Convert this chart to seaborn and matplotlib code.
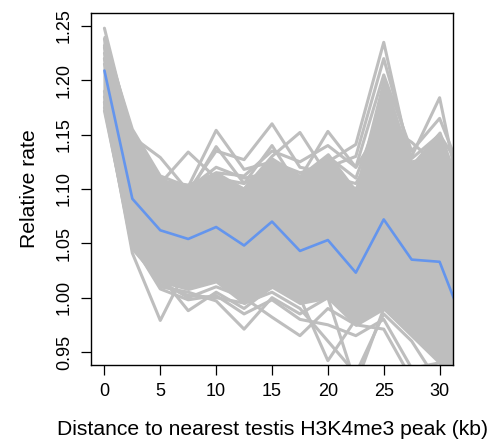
import matplotlib
matplotlib.use("Agg")
import matplotlib.pyplot as plt
import pandas as pd
import seaborn as sns

# distance bins (kb); the last bin lies just past the visible range
distance = [0, 2.5, 5, 7.5, 10, 12.5, 15, 17.5, 20, 22.5, 25, 27.5, 30, 32.5]

# observed relative rate
observed = [1.209, 1.091, 1.062, 1.054, 1.065, 1.048, 1.070, 1.043, 1.053,
            1.023, 1.072, 1.035, 1.033, 0.967]

# dense core of the resampled curves
core_upper = [1.240, 1.150, 1.108, 1.104, 1.115, 1.100, 1.128, 1.112, 1.132,
              1.098, 1.200, 1.122, 1.152, 1.080]
core_lower = [1.175, 1.045, 1.015, 1.008, 1.015, 0.995, 1.010, 0.995, 1.000,
              0.975, 0.990, 0.965, 0.940, 0.920]

# individual resampled curves that stick out of the core
outliers = {
    "u1": [1.238, 1.155, 1.112, 1.102, 1.154, 1.118, 1.125, 1.105, 1.110, 1.090, 1.120, 1.105, 1.110, 1.085],
    "u2": [1.230, 1.148, 1.129, 1.098, 1.135, 1.127, 1.160, 1.120, 1.115, 1.100, 1.140, 1.125, 1.130, 1.095],
    "u3": [1.225, 1.140, 1.105, 1.134, 1.110, 1.100, 1.130, 1.152, 1.112, 1.105, 1.150, 1.110, 1.125, 1.090],
    "u4": [1.220, 1.135, 1.110, 1.095, 1.139, 1.105, 1.120, 1.110, 1.153, 1.120, 1.160, 1.143, 1.120, 1.095],
    "u5": [1.232, 1.150, 1.108, 1.100, 1.120, 1.110, 1.115, 1.105, 1.125, 1.141, 1.235, 1.120, 1.140, 1.080],
    "u6": [1.215, 1.130, 1.100, 1.095, 1.110, 1.105, 1.140, 1.100, 1.130, 1.110, 1.180, 1.130, 1.184, 1.060],
    "u7": [1.248, 1.145, 1.105, 1.100, 1.115, 1.112, 1.135, 1.125, 1.140, 1.120, 1.205, 1.135, 1.165, 1.100],
    "u8": [1.220, 1.135, 1.100, 1.090, 1.105, 1.100, 1.125, 1.115, 1.120, 1.130, 1.220, 1.128, 1.150, 1.110],
    "l1": [1.180, 1.041, 0.979, 1.030, 1.020, 1.010, 1.030, 1.000, 1.010, 0.990, 1.000, 0.990, 0.970, 0.950],
    "l2": [1.175, 1.045, 1.020, 0.988, 1.005, 0.990, 1.010, 1.000, 0.942, 0.980, 1.010, 0.985, 0.960, 0.940],
    "l3": [1.172, 1.050, 1.010, 1.005, 0.997, 0.971, 1.000, 0.985, 1.000, 0.920, 0.990, 0.970, 0.955, 0.945],
    "l4": [1.185, 1.055, 1.015, 1.000, 1.010, 1.000, 0.982, 0.965, 0.990, 0.975, 0.971, 0.925, 0.930, 0.935],
    "l5": [1.180, 1.048, 1.012, 1.002, 1.000, 0.995, 1.005, 0.990, 0.960, 0.930, 0.985, 0.960, 0.920, 0.930],
    "l6": [1.190, 1.050, 1.008, 0.998, 1.002, 0.985, 0.998, 0.980, 0.975, 0.965, 0.980, 0.935, 0.940, 0.920],
}

x_ticks = [0, 5, 10, 15, 20, 25, 30]
y_ticks = [0.95, 1.00, 1.05, 1.10, 1.15, 1.20, 1.25]

GREY = "#bebebe"
BLUE = "#6495ed"

sns.set_theme(style="white")
plt.rcParams["font.family"] = ["Liberation Sans", "DejaVu Sans"]
plt.rcParams["text.color"] = "black"
plt.rcParams["axes.labelcolor"] = "black"
plt.rcParams["xtick.color"] = "black"
plt.rcParams["ytick.color"] = "black"

fig = plt.figure(figsize=(4.93, 4.46), dpi=100)
ax = fig.add_axes([0.1846, 0.1816, 0.7343, 0.7893])

ax.fill_between(distance, core_lower, core_upper, color=GREY, lw=2.2, edgecolor=GREY)

boot = pd.DataFrame(
    [(name, d, v) for name, vals in outliers.items() for d, v in zip(distance, vals)],
    columns=["rep", "distance", "rate"],
)
sns.lineplot(data=boot, x="distance", y="rate", units="rep", estimator=None,
             color=GREY, lw=2.2, ax=ax)

obs = pd.DataFrame({"distance": distance, "rate": observed})
sns.lineplot(data=obs, x="distance", y="rate", color=BLUE, lw=1.9, ax=ax)

ax.set_xlim(-1.2, 31.2)
ax.set_ylim(0.938, 1.262)
ax.set_xticks(x_ticks)
ax.set_xticklabels([str(t) for t in x_ticks])
ax.set_yticks(y_ticks)
ax.set_yticklabels([f"{t:.2f}" for t in y_ticks], rotation=90, va="center")

ax.tick_params(axis="both", direction="out", length=7, width=0.9,
               labelsize=13, pad=6, bottom=True, left=True)
for s in ax.spines.values():
    s.set_color("black")
    s.set_linewidth(1.0)

ax.set_xlabel("Distance to nearest testis H3K4me3 peak (kb)", fontsize=15.2, labelpad=14)
ax.set_ylabel("Relative rate", fontsize=15.2, labelpad=12)

fig.savefig("out.png", dpi=100)
